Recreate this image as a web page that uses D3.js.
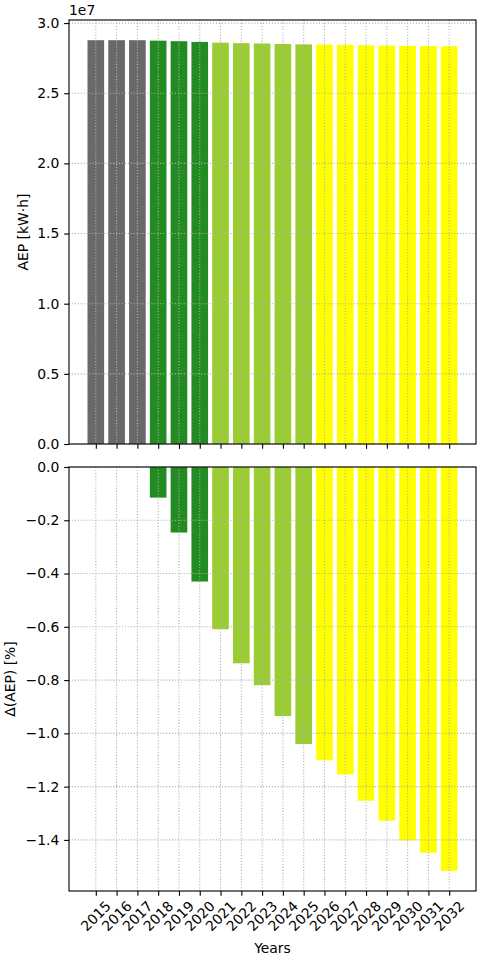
<!DOCTYPE html>
<html>
<head>
<meta charset="utf-8">
<script src="https://cdn.jsdelivr.net/npm/d3@7"></script>
<style>
  body { margin: 0; background: #fff; }
  text { font-family: "DejaVu Sans", sans-serif; font-size: 13.9px; fill: #000; }
</style>
</head>
<body>
<script>
// data
var years = [2015, 2016, 2017, 2018, 2019, 2020, 2021, 2022, 2023, 2024, 2025, 2026, 2027, 2028, 2029, 2030, 2031, 2032];
var aep = [28780000, 28780000, 28780000, 28747000, 28709000, 28656000, 28605000, 28568000, 28544000,
           28511000, 28481000, 28463000, 28448000, 28419000, 28398000, 28377000, 28363000, 28344000];
var deltaAep = [0, 0, 0, -0.115, -0.246, -0.430, -0.609, -0.737, -0.819, -0.935, -1.040,
                -1.101, -1.154, -1.253, -1.328, -1.402, -1.448, -1.516];
var barColors = ["dimgray", "dimgray", "dimgray", "forestgreen", "forestgreen", "forestgreen",
                 "yellowgreen", "yellowgreen", "yellowgreen", "yellowgreen", "yellowgreen",
                 "yellow", "yellow", "yellow", "yellow", "yellow", "yellow", "yellow"];
var topTicks = [0, 0.5e7, 1.0e7, 1.5e7, 2.0e7, 2.5e7, 3.0e7];
var bottomTicks = [0, -0.2, -0.4, -0.6, -0.8, -1.0, -1.2, -1.4];

var W = 480, H = 960;
var left = 69, right = 476;
var barW = 0.8;
var lw = 1.11;   // 0.8pt at 100 dpi
var tick = 4.86; // 3.5pt

var svg = d3.select("body").append("svg")
    .attr("width", W)
    .attr("height", H);

var x = d3.scaleLinear()
    .domain([-0.4 - 0.89, years.length - 1 + 0.4 + 0.89])
    .range([left, right]);

var yTop = d3.scaleLinear()
    .domain([0, d3.max(aep) * 1.05])
    .range([444, 20]);

var yBot = d3.scaleLinear()
    .domain([d3.min(deltaAep) * 1.05, 0])
    .range([891, 467]);

function panel(y, values, ticks, fmt) {
    var y0 = y.range()[1], y1 = y.range()[0];
    var g = svg.append("g");

    // bars
    g.selectAll(".bar")
        .data(values)
        .enter().append("rect")
        .attr("x", function(d, i) { return x(i - barW / 2); })
        .attr("width", x(barW) - x(0))
        .attr("y", function(d) { return y(Math.max(0, d)); })
        .attr("height", function(d) { return Math.abs(y(d) - y(0)); })
        .style("fill", function(d, i) { return barColors[i]; });

    // grid on top of the bars
    g.selectAll(".vgrid")
        .data(years)
        .enter().append("line")
        .attr("x1", function(d, i) { return x(i); })
        .attr("x2", function(d, i) { return x(i); })
        .attr("y1", y0).attr("y2", y1)
        .style("stroke", "#b0b0b0")
        .style("stroke-width", lw)
        .style("stroke-dasharray", "1.11,1.83");
    g.selectAll(".hgrid")
        .data(ticks)
        .enter().append("line")
        .attr("x1", left).attr("x2", right)
        .attr("y1", function(d) { return y(d); })
        .attr("y2", function(d) { return y(d); })
        .style("stroke", "#b0b0b0")
        .style("stroke-width", lw)
        .style("stroke-dasharray", "1.11,1.83");

    // frame
    g.append("rect")
        .attr("x", left).attr("y", y0)
        .attr("width", right - left).attr("height", y1 - y0)
        .style("fill", "none")
        .style("stroke", "#000")
        .style("stroke-width", lw);

    // y ticks
    var yAxis = d3.axisLeft(y)
        .tickValues(ticks)
        .tickSize(tick)
        .tickPadding(tick)
        .tickFormat(fmt);
    var ya = g.append("g")
        .attr("transform", "translate(" + left + ",0)")
        .call(yAxis);
    ya.select(".domain").remove();
    ya.selectAll("line").style("stroke-width", lw);
    ya.selectAll("text").style("font-size", "13.9px").style("font-family", "DejaVu Sans");

    // x ticks
    var xa = g.append("g")
        .attr("transform", "translate(0," + y1 + ")")
        .call(d3.axisBottom(x).tickValues(d3.range(years.length)).tickSize(tick).tickFormat(""));
    xa.select(".domain").remove();
    xa.selectAll("line").style("stroke-width", lw);
    return g;
}

panel(yTop, aep, topTicks, function(d) { return (d / 1e7).toFixed(1); });
panel(yBot, deltaAep, bottomTicks, function(d) { return d3.format(".1f")(d).replace("-", "\u2212"); });

// offset text
svg.append("text")
    .attr("x", 69).attr("y", 15)
    .text("1e7");

// rotated year labels
svg.selectAll(".xlabel")
    .data(years)
    .enter().append("text")
    .attr("transform", function(d, i) { return "translate(" + x(i) + ",916) rotate(-45)"; })
    .attr("text-anchor", "middle")
    .attr("dominant-baseline", "central")
    .text(function(d) { return d; });

// axis labels
svg.append("text")
    .attr("transform", "translate(28,232) rotate(-90)")
    .attr("text-anchor", "middle")
    .text("AEP [kW\u00b7h]");

svg.append("text")
    .attr("transform", "translate(15,679) rotate(-90)")
    .attr("text-anchor", "middle")
    .text("\u0394(AEP) [%]");

svg.append("text")
    .attr("x", (left + right) / 2).attr("y", 953)
    .attr("text-anchor", "middle")
    .text("Years");
</script>
</body>
</html>
